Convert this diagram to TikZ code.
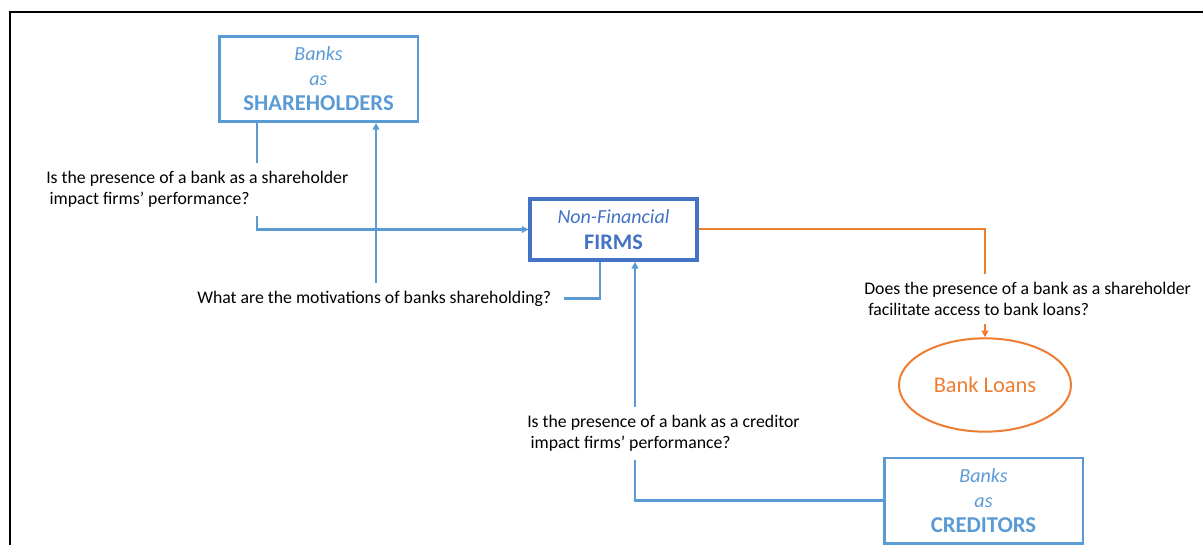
\documentclass[tikz,border=0pt]{standalone}
\usepackage{fontspec}
\setmainfont{Carlito}
\usepackage{xcolor}
\usetikzlibrary{arrows.meta,positioning,shapes,calc}

\definecolor{lblue}{HTML}{5B9BD5}
\definecolor{dblue}{HTML}{4472C4}
\definecolor{orng}{HTML}{ED7D31}

\begin{document}
\begin{tikzpicture}[x=0.75pt, y=-0.75pt,
  bankbox/.style={draw=lblue, line width=2pt, minimum width=149pt, minimum height=64pt, align=center, text=lblue, inner sep=0pt, font=\fontsize{15}{18.75}\selectfont},
  firmbox/.style={draw=dblue, line width=2.6pt, minimum width=125pt, minimum height=46pt, align=center, text=dblue, inner sep=0pt, font=\fontsize{15}{19.5}\selectfont},
  qtext/.style={align=left, font=\fontsize{13.3}{16}\selectfont, inner xsep=3pt, inner ysep=6pt},
  conn/.style={draw=lblue, line width=2pt},
  oconn/.style={draw=orng, line width=1.5pt},
  tip/.style={-{Triangle[length=5pt, width=5pt]}}
]

\useasboundingbox (0,0) rectangle (1203,545);

% Frame
\draw[line width=1.5pt] (10,545) -- (10,12) -- (1203,12);

% Boxes
\node[bankbox] (sh) at (318.5,79) {{\itshape Banks}\\{\itshape as}\\{\fontsize{17}{18.75}\selectfont\bfseries SHAREHOLDERS}};
\node[firmbox] (firms) at (613.5,229.5) {{\itshape Non-Financial}\\{\fontsize{16.7}{19.5}\selectfont\bfseries FIRMS}};
\node[bankbox] (cr) at (983.5,500.5) {{\itshape Banks}\\{\itshape as}\\{\fontsize{17}{18.75}\selectfont\bfseries CREDITORS}};
\node[ellipse, draw=orng, line width=1.5pt, minimum width=129pt, minimum height=70pt, text=orng, font=\fontsize{16.8}{20}\selectfont] (loans) at (985,385) {Bank Loans};

% Questions
\node[qtext, anchor=west] (q1) at (42,189.5) {Is the presence of a bank as a shareholder\\\hspace{2.5pt}impact firms’ performance?};
\node[qtext, anchor=west, inner xsep=9pt] (q2) at (185,298.5) {What are the motivations of banks shareholding?};
\node[qtext, anchor=west] (q3) at (523,433.5) {Is the presence of a bank as a creditor\\\hspace{2.5pt}impact firms’ performance?};
\node[qtext, anchor=west] (q4) at (860,299) {Does the presence of a bank as a shareholder\\\hspace{3pt}facilitate access to bank loans?};

% Connectors
\coordinate (c257) at (257,0);
\coordinate (c376) at (376,0);
\coordinate (c600) at (600,0);
\coordinate (c635) at (635,0);
\coordinate (c985) at (985,0);

\draw[conn] (sh.south -| c257) -- (q1.north -| c257);
\draw[conn, tip] (q1.south -| c257) |- (firms.west);

\draw[conn] (firms.south -| c600) |- (q2.east);
\draw[conn, tip] (q2.north -| c376) -- (sh.south -| c376);

\draw[conn] (cr.west) -| (q3.south -| c635);
\draw[conn, tip] (q3.north -| c635) -- (firms.south -| c635);

\draw[oconn] (firms.east) -| (q4.north -| c985);
\draw[oconn, tip] (q4.south -| c985) -- (loans.north);

\end{tikzpicture}
\end{document}
